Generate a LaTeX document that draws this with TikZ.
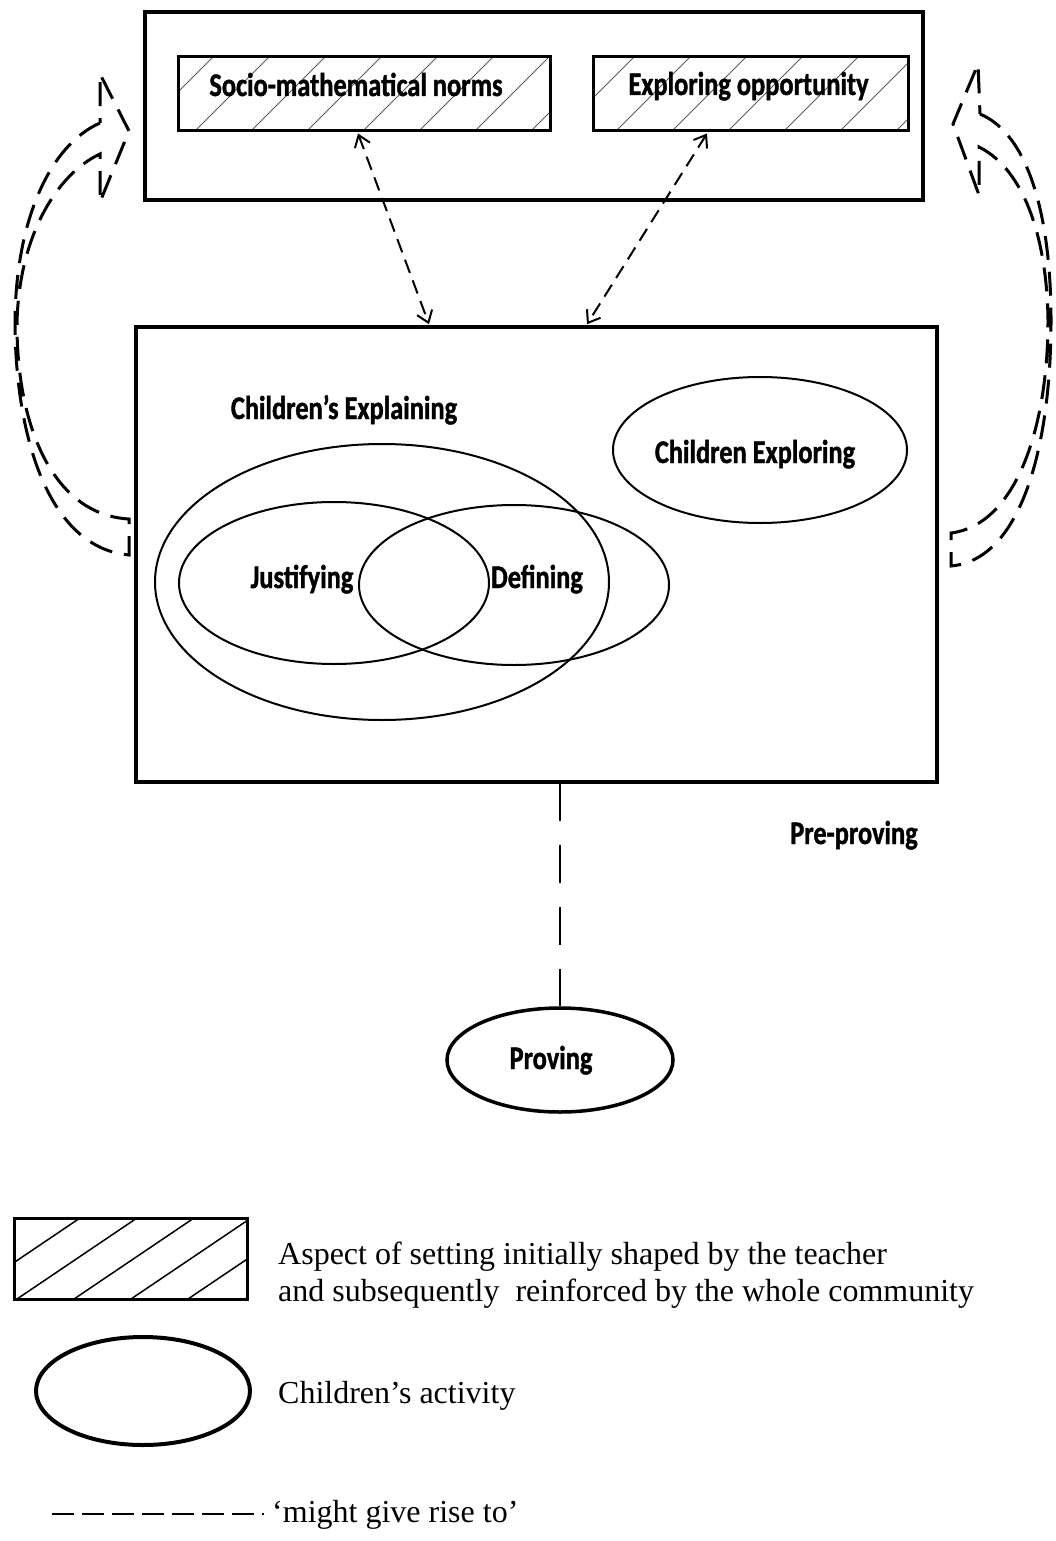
\documentclass[tikz,border=0pt]{standalone}
\usepackage{fontspec}
\setmainfont{Liberation Serif}
\newfontfamily\lblfont[FakeStretch=0.80,FakeBold=1.2]{Carlito}
\usetikzlibrary{shapes.geometric,arrows.meta,calc}
\begin{document}
\begin{tikzpicture}[x=1pt,y=-1pt,
  lbl/.style={font=\lblfont\bfseries\fontsize{33}{36}\selectfont, inner sep=0pt, anchor=base},
  leg/.style={font=\fontsize{32}{36}\selectfont, inner sep=0pt, anchor=base west},
  box/.style={draw, line width=3.5pt, inner sep=0pt},
  act/.style={draw, ellipse, line width=2pt, inner sep=0pt},
  hatchthin/.style={line width=1pt, black!65},
  hatchleg/.style={line width=1.5pt},
  dashedarrow/.style={line width=2pt, dash pattern=on 14pt off 8pt,
     {Straight Barb[length=11pt,width=16pt,line width=2pt]}-{Straight Barb[length=11pt,width=16pt,line width=2pt]}},
  curvy/.style={line width=3pt, dash pattern=on 24pt off 12pt, line join=miter},
  gives/.style={line width=2pt, dash pattern=on 38pt off 24pt}
]
\useasboundingbox (0,0) rectangle (1056,1541);

% ---------- top setting box ----------
\node[box, minimum width=778pt, minimum height=188pt] (setting) at (534,106) {};

% hatching of the two aspect boxes
\begin{scope}
  \clip (178,57) rectangle (550,131);
  \foreach \x in {139,195,...,560} \draw[hatchthin] (\x,131) -- ++(74,-74);
\end{scope}
\begin{scope}
  \clip (593,57) rectangle (908,131);
  \foreach \x in {560,616,...,920} \draw[hatchthin] (\x,131) -- ++(74,-74);
\end{scope}
\node[box, line width=3pt, minimum width=372pt, minimum height=74pt] (norms) at (364,94) {};
\node[box, line width=3pt, minimum width=315pt, minimum height=74pt] (opp) at (750.5,94) {};
\node[lbl] (normstxt) at (356,96) {Socio-mathematical norms};
\node[lbl] (opptxt) at (748.5,95) {Exploring opportunity};

% ---------- lower (pre-proving) box ----------
\node[box, minimum width=801pt, minimum height=455pt] (arena) at (536.5,554.5) {};

\draw[dashedarrow] ([xshift=-6pt,yshift=-1pt]norms.south) -- ([xshift=-107.5pt,yshift=1pt]arena.north);
\draw[dashedarrow] ([xshift=-43.5pt,yshift=-1pt]opp.south) -- ([xshift=50.5pt,yshift=1pt]arena.north);

\node[act, minimum width=454pt, minimum height=276pt] (expl) at (382,582) {};
\node[act, minimum width=310pt, minimum height=162pt] (just) at (334,583) {};
\node[act, minimum width=310pt, minimum height=160pt] (defn) at (514,585) {};
\node[act, minimum width=294pt, minimum height=146pt] (explo) at (760,450) {};

\node[lbl] (expltxt) at (344,419) {Children’s Explaining};
\node[lbl] (justtxt) at (302,588) {Justifying};
\node[lbl] (defntxt) at (537,588) {Defining};
\node[lbl] (explotxt) at (755,463) {Children Exploring};
\node[lbl] (pre) at (854,844) {Pre-proving};

% ---------- proving ----------
\node[act, line width=3.5pt, minimum width=226pt, minimum height=104pt] (prov) at (560,1060) {};
\node[lbl] (provtxt) at (551,1069) {Proving};
\draw[gives] ([yshift=1pt]arena.south -| prov.north) -- (prov.north);

% ---------- curved block arrows ----------
\draw[curvy] (100,123) .. controls (50,145) and (16,220) .. (15,320)
   .. controls (15,440) and (50,548) .. (129,555) -- (129,519)
   .. controls (55,515) and (17,430) .. (17,325)
   .. controls (18,240) and (55,175) .. (100,154)
   -- (100,202) -- (129,131) -- (100,74) -- cycle;
\draw[curvy] (980,114) .. controls (1030,135) and (1051,220) .. (1051,320)
   .. controls (1051,450) and (1020,560) .. (951,566) -- (951,533)
   .. controls (1015,525) and (1048,430) .. (1048,320)
   .. controls (1047,240) and (1025,170) .. (979,147)
   -- (979,195) -- (953,124) -- (978,64) -- cycle;

% ---------- legend ----------
\begin{scope}
  \clip (14,1218) rectangle (247,1299);
  \foreach \x in {-40,17,...,260} \draw[hatchleg] (\x,1299) -- ++(120,-81);
\end{scope}
\node[draw, line width=3pt, inner sep=0pt, minimum width=233pt, minimum height=81pt] (legbox) at (130.5,1258.5) {};
\node[draw, ellipse, line width=4pt, inner sep=0pt, minimum width=214pt, minimum height=108pt] (legell) at (143,1391) {};
\coordinate (legA) at (52,1514);
\coordinate (legB) at (264,1514);
\draw[line width=2pt, dash pattern=on 22pt off 8pt] (legA) -- (legB);

\node[leg] (t1) at (278,1264) {Aspect of setting initially shaped by the teacher};
\node[leg] (t2) at (278,1301) {and subsequently\ \ reinforced by the whole community};
\node[leg] (t3) at (278,1403) {Children’s activity};
\node[leg] (t4) at (272,1522) {‘might give rise to’};
\end{tikzpicture}
\end{document}
